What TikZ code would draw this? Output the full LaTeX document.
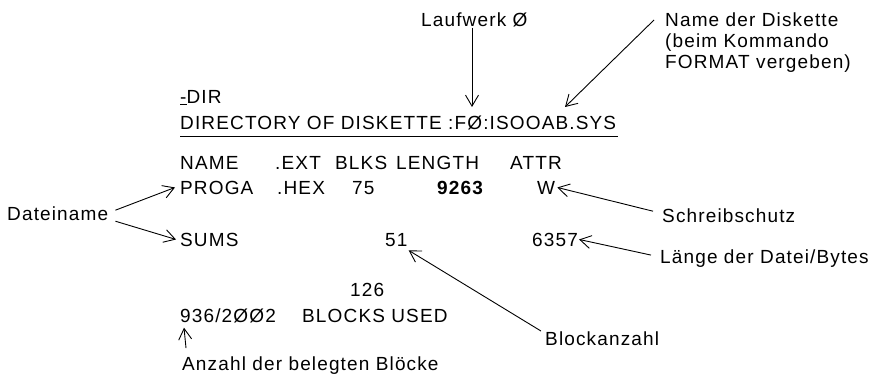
\documentclass[tikz,border=0pt]{standalone}
\usepackage{fontspec}
\setmainfont{Liberation Sans}[LetterSpace=6]
\usetikzlibrary{arrows.meta}

\begin{document}
\begin{tikzpicture}[
  x=1pt, y=-1pt,
  every node/.style={inner sep=0pt, font=\fontsize{19}{21}\selectfont},
  screen/.style={anchor=base west},
  note/.style={anchor=base west},
  pointer/.style={-{Straight Barb[length=11pt,width=13pt]}, line width=0.9pt},
]
\useasboundingbox (0,0) rectangle (893,377);

% screen listing
\node[screen] (prompt) at (180,103) {\underline{-}DIR};
\node[screen] (dirline) at (180,129) {DIRECTORY OF DISKETTE :FØ:ISOOAB.SYS};
\draw[line width=1pt] ([yshift=-7pt]dirline.base west) -- ([yshift=-7pt,xshift=2pt]dirline.base east);

\node[screen] (hname) at (180,169) {NAME};
\node[screen] (hext) at (275,169) {.EXT};
\node[screen] (hblks) at (335,169) {BLKS};
\node[screen] (hlen) at (396,169) {LENGTH};
\node[screen] (hattr) at (510,169) {ATTR};

\node[screen] (proga) at (180,194) {PROGA};
\node[screen] (ext1) at (277,194) {.HEX};
\node[screen] (blk1) at (352,194) {75};
\node[screen] (len1) at (437,194) {\bfseries 9263};
\node[screen] (attrw) at (537,194) {W};

\node[screen] (sums) at (180,246) {SUMS};
\node[screen] (blk2) at (385,246) {51};
\node[screen] (len2) at (532,246) {6357};

\node[screen] (used) at (350,296) {126};
\node[screen] (total) at (180,322) {936/2ØØ2};
\node[screen] (usedtxt) at (302,322) {BLOCKS USED};

% explanations
\node[note] (laufwerk) at (421,27) {Laufwerk Ø};
\node[anchor=north west, align=left] (diskname) at (665,13) {Name der Diskette\\(beim Kommando\\FORMAT vergeben)};
\node[note] (dateiname) at (7,220) {Dateiname};
\node[note] (schreib) at (662,222) {Schreibschutz};
\node[note] (laenge) at (660,263) {Länge der Datei/Bytes};
\node[note] (blockanz) at (545,345) {Blockanzahl};
\node[note] (anzahl) at (182,370) {Anzahl der belegten Blöcke};

\coordinate (drive) at (472,107);
\coordinate (nametip) at (565,107);

% pointers
\draw[pointer] (laufwerk.south -| drive) -- (drive);
\draw[pointer] ([xshift=-11pt,yshift=-7pt]diskname.north west) -- (nametip);
\draw[pointer] ([xshift=7pt,yshift=3pt]dateiname.east) -- ([xshift=-5pt]proga.west);
\draw[pointer] ([xshift=7pt,yshift=-8pt]dateiname.east) -- ([xshift=-4pt]sums.west);
\draw[pointer] ([xshift=-9pt,yshift=4pt]schreib.west) -- ([xshift=2pt]attrw.east);
\draw[pointer] ([xshift=-9pt,yshift=3pt]laenge.west) -- ([xshift=1pt]len2.east);
\draw[pointer] ([xshift=-4pt]blockanz.north west) -- ([xshift=1pt,yshift=-4pt]blk2.south east);
\draw[pointer] ([xshift=4pt,yshift=8pt]anzahl.north west) -- ([xshift=4pt,yshift=-5pt]total.south west);

\end{tikzpicture}
\end{document}
